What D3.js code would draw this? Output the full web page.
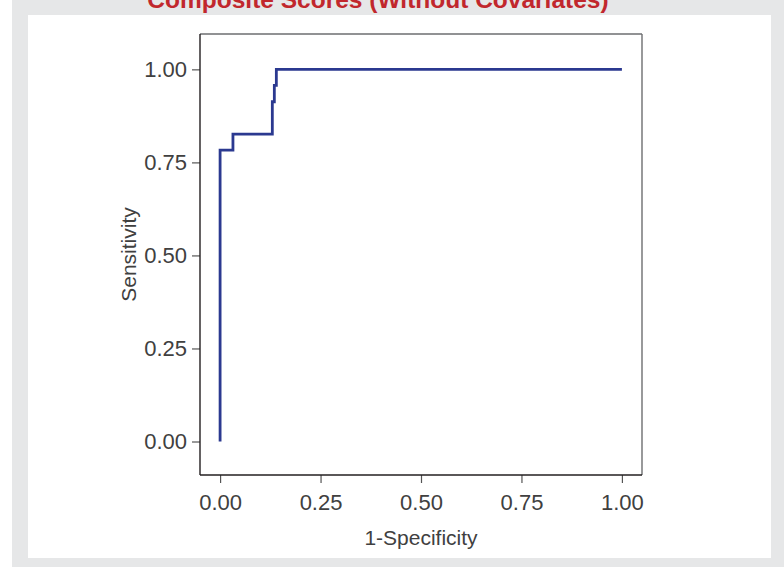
<!DOCTYPE html>
<html>
<head>
<meta charset="utf-8">
<script src="https://cdn.jsdelivr.net/npm/d3@7"></script>
<style>
  body { margin: 0; background: #fff; }
  svg { display: block; }
</style>
</head>
<body>
<svg class="canvas" width="784" height="567"></svg>
<script>
// ROC curve
const fpr = [0, 0, 0.032, 0.13, 0.135, 0.14, 1];
const tpr = [0, 0.783, 0.826, 0.913, 0.957, 1, 1];
const tickVals = [0, 0.25, 0.5, 0.75, 1];
const tickLabels = ["0.00", "0.25", "0.50", "0.75", "1.00"];
const title = "Composite Scores (Without Covariates)";

const svg = d3.select(".canvas");
const font = '"Liberation Sans", Arial, sans-serif';
const textCol = "#404040";
const fs = "22px";

// page background + white panel
svg.append("rect").attr("x", 12).attr("y", 0).attr("width", 772).attr("height", 567).attr("fill", "#e6e7e8");
svg.append("rect").attr("x", 28).attr("y", 15).attr("width", 743).attr("height", 543).attr("fill", "#fff");

// title, cut by the top edge (as in the source figure)
svg.append("text")
  .attr("x", 378).attr("y", 8)
  .attr("text-anchor", "middle")
  .style("font-family", font)
  .style("font-weight", "bold")
  .style("font-size", "24.5px")
  .attr("fill", "#c1272d")
  .text(title);

const x = d3.scaleLinear().domain([-0.05, 1.05]).range([200, 642]);
const y = d3.scaleLinear().domain([-0.09, 1.095]).range([475, 34]);

const points = fpr.map((d, i) => ({ x: d, y: tpr[i] }));

// axes
const xAxis = svg.append("g")
  .attr("transform", `translate(0,${y.range()[0]})`)
  .call(d3.axisBottom(x).tickValues(tickVals).tickFormat((d, i) => tickLabels[i]).tickSize(8).tickPadding(11));
const yAxis = svg.append("g")
  .attr("transform", `translate(${x.range()[0]},0)`)
  .call(d3.axisLeft(y).tickValues(tickVals).tickFormat((d, i) => tickLabels[i]).tickSize(8).tickPadding(5));

[xAxis, yAxis].forEach(g => {
  g.attr("font-family", font).attr("font-size", fs);
  g.select(".domain").remove();
  g.selectAll(".tick line").attr("stroke", "#555").attr("stroke-width", 1.2);
  g.selectAll(".tick text").attr("fill", textCol);
});

// frame
const [x0, x1] = x.range();
const [yb, yt] = y.range();
svg.append("line").attr("x1", x0).attr("x2", x1).attr("y1", yt).attr("y2", yt).attr("stroke", "#6d6e70").attr("stroke-width", 1.4);
svg.append("line").attr("x1", x1).attr("x2", x1).attr("y1", yt).attr("y2", yb).attr("stroke", "#6d6e70").attr("stroke-width", 1.4);
svg.append("line").attr("x1", x0).attr("x2", x0).attr("y1", yt).attr("y2", yb).attr("stroke", "#231f20").attr("stroke-width", 1.4);
svg.append("line").attr("x1", x0).attr("x2", x1).attr("y1", yb).attr("y2", yb).attr("stroke", "#231f20").attr("stroke-width", 1.4);

// ROC step line
const line = d3.line()
  .x(d => x(d.x))
  .y(d => y(d.y))
  .curve(d3.curveStepAfter);

svg.append("path")
  .datum(points)
  .attr("d", line)
  .attr("fill", "none")
  .attr("stroke", "#2b3990")
  .attr("stroke-width", 2.8);

// axis titles
svg.append("text")
  .attr("x", (x0 + x1) / 2).attr("y", 545)
  .attr("text-anchor", "middle")
  .style("font-family", font).style("font-size", "21px")
  .attr("fill", textCol)
  .text("1-Specificity");

svg.append("text")
  .attr("transform", `translate(136,${(yb + yt) / 2}) rotate(-90)`)
  .attr("text-anchor", "middle")
  .style("font-family", font).style("font-size", "21px")
  .attr("fill", textCol)
  .text("Sensitivity");
</script>
</body>
</html>
